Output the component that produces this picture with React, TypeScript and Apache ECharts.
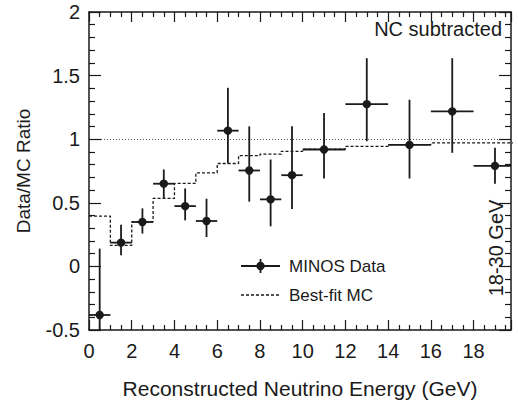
import React, { useEffect, useRef } from "react";
import * as echarts from "echarts";

// Data points (MINOS)
const energies = [0.5, 1.5, 2.5, 3.5, 4.5, 5.5, 6.5, 7.5, 8.5, 9.5, 11, 13, 15, 17, 19];
const binLow = [0, 1, 2, 3, 4, 5, 6, 7, 8, 9, 10, 12, 14, 16, 18];
const binHigh = [1, 2, 3, 4, 5, 6, 7, 8, 9, 10, 12, 14, 16, 18, 30];
const ratios = [-0.382, 0.187, 0.349, 0.65, 0.474, 0.357, 1.067, 0.754, 0.527, 0.717, 0.919, 1.276, 0.955, 1.219, 0.791];
const ratioHigh = [0.14, 0.328, 0.456, 0.762, 0.613, 0.532, 1.404, 1.101, 0.84, 1.101, 1.206, 1.637, 1.31, 1.637, 0.932];
const ratioLow = [-0.904, 0.088, 0.258, 0.535, 0.362, 0.231, 0.809, 0.509, 0.315, 0.451, 0.691, 0.984, 0.691, 0.893, 0.65];

// Best-fit MC histogram
const mcEdges = [0, 1, 2, 3, 4, 5, 6, 7, 8, 9, 10, 12, 14, 16, 18, 30];
const mcValues = [0.396, 0.165, 0.352, 0.535, 0.652, 0.736, 0.809, 0.871, 0.882, 0.905, 0.921, 0.944, 0.958, 0.971, 0.976];

const xTicks = [0, 2, 4, 6, 8, 10, 12, 14, 16, 18];
const yTicks = [-0.5, 0, 0.5, 1, 1.5, 2];

const X_MIN = 0;
const X_MAX = 19.75;
const Y_MIN = -0.5;
const Y_MAX = 2;

const INK = "#1a1a1a";
const FONT = "Liberation Sans, Arial, sans-serif";

export default function App() {
  const ref = useRef<HTMLDivElement>(null);

  useEffect(() => {
    if (!ref.current) return;
    const chart = echarts.init(ref.current, null, { renderer: "svg" });

    const errData = energies.map((e, i) => [e, ratios[i], binLow[i], binHigh[i], ratioLow[i], ratioHigh[i]]);
    const mcData: number[][] = mcValues.map((v, i) => [mcEdges[i], v]);
    mcData.push([mcEdges[mcEdges.length - 1], mcValues[mcValues.length - 1]]);

    const clampX = (v: number) => Math.min(X_MAX, Math.max(X_MIN, v));
    const clampY = (v: number) => Math.min(Y_MAX, Math.max(Y_MIN, v));

    const baseX = {
      type: "value" as const,
      min: X_MIN,
      max: X_MAX,
      interval: 2,
      splitLine: { show: false },
      axisLine: { show: true, onZero: false, lineStyle: { color: INK, width: 1.5 } },
      axisTick: { show: true, inside: true, length: 10, lineStyle: { color: INK, width: 1.2 } },
      minorTick: { show: true, splitNumber: 4, length: 5, lineStyle: { color: INK, width: 1.2 } },
    };
    const baseY = {
      type: "value" as const,
      min: Y_MIN,
      max: Y_MAX,
      interval: 0.5,
      splitLine: { show: false },
      axisLine: { show: true, onZero: false, lineStyle: { color: INK, width: 1.5 } },
      axisTick: { show: true, inside: true, length: 12, lineStyle: { color: INK, width: 1.2 } },
      minorTick: { show: true, splitNumber: 5, length: 6, lineStyle: { color: INK, width: 1.2 } },
    };

    chart.setOption({
      animation: false,
      backgroundColor: "#ffffff",
      grid: { left: 89, right: 7, top: 12, bottom: 73, containLabel: false },
      xAxis: [
        {
          ...baseX,
          position: "bottom",
          axisLabel: {
            show: true,
            fontSize: 20,
            color: INK,
            fontFamily: FONT,
            margin: 11,
            showMaxLabel: false,
            formatter: (v: number) => (xTicks.includes(v) ? String(v) : ""),
          },
          name: "Reconstructed Neutrino Energy (GeV)",
          nameLocation: "middle",
          nameGap: 48,
          nameTextStyle: { fontSize: 21, color: INK, fontFamily: FONT },
        },
        { ...baseX, position: "top", axisLabel: { show: false } },
      ],
      yAxis: [
        {
          ...baseY,
          position: "left",
          axisLabel: {
            show: true,
            fontSize: 20,
            color: INK,
            fontFamily: FONT,
            margin: 9,
            formatter: (v: number) => (yTicks.includes(v) ? String(v) : ""),
          },
          name: "Data/MC Ratio",
          nameLocation: "middle",
          nameGap: 56,
          nameRotate: 90,
          nameTextStyle: { fontSize: 19, color: INK, fontFamily: FONT },
        },
        { ...baseY, position: "right", axisLabel: { show: false } },
      ],
      series: [
        {
          name: "Best-fit MC",
          type: "line",
          xAxisIndex: 0,
          yAxisIndex: 0,
          step: "end",
          symbol: "none",
          clip: true,
          data: mcData,
          lineStyle: { color: INK, width: 1.3, type: [3, 2] },
          markLine: {
            silent: true,
            symbol: "none",
            label: { show: false },
            lineStyle: { color: INK, width: 0.8, type: [1, 2] },
            data: [{ yAxis: 1 }],
          },
        },
        {
          name: "MINOS Data",
          type: "custom",
          xAxisIndex: 0,
          yAxisIndex: 0,
          data: errData,
          renderItem: (params: any, api: any) => {
            const x = api.value(0);
            const y = api.value(1);
            const xl = clampX(api.value(2));
            const xh = clampX(api.value(3));
            const yl = clampY(api.value(4));
            const yh = clampY(api.value(5));
            const c = api.coord([x, y]);
            const pL = api.coord([xl, y]);
            const pR = api.coord([xh, y]);
            const pB = api.coord([x, yl]);
            const pT = api.coord([x, yh]);
            const style = { stroke: INK, lineWidth: 1.8 };
            return {
              type: "group",
              children: [
                { type: "line", shape: { x1: pB[0], y1: pB[1], x2: pT[0], y2: pT[1] }, style },
                { type: "line", shape: { x1: pL[0], y1: pL[1], x2: pR[0], y2: pR[1] }, style },
                { type: "circle", shape: { cx: c[0], cy: c[1], r: 4.2 }, style: { fill: INK } },
              ],
            };
          },
        },
      ],
      graphic: [
        {
          type: "text",
          right: 16,
          top: 19,
          style: { text: "NC subtracted", fontSize: 20, fill: INK, fontFamily: FONT },
        },
        {
          type: "text",
          x: 496,
          y: 248,
          rotation: Math.PI / 2,
          style: {
            text: "18-30 GeV",
            fontSize: 20,
            fill: INK,
            fontFamily: FONT,
            align: "center",
            verticalAlign: "middle",
          },
        },
        // Legend
        { type: "line", shape: { x1: 241, y1: 266, x2: 280, y2: 266 }, style: { stroke: INK, lineWidth: 1.8 } },
        { type: "line", shape: { x1: 260.5, y1: 259, x2: 260.5, y2: 273 }, style: { stroke: INK, lineWidth: 1.8 } },
        { type: "circle", shape: { cx: 260.5, cy: 266, r: 4.2 }, style: { fill: INK } },
        {
          type: "text",
          x: 289,
          y: 266,
          style: { text: "MINOS Data", fontSize: 17, fill: INK, fontFamily: FONT, verticalAlign: "middle" },
        },
        {
          type: "line",
          shape: { x1: 241, y1: 295, x2: 280, y2: 295 },
          style: { stroke: INK, lineWidth: 1.3, lineDash: [3, 2] },
        },
        {
          type: "text",
          x: 289,
          y: 295,
          style: { text: "Best-fit MC", fontSize: 17, fill: INK, fontFamily: FONT, verticalAlign: "middle" },
        },
      ],
    });

    return () => chart.dispose();
  }, []);

  return <div ref={ref} style={{ width: 518, height: 404, position: "absolute", left: 0, top: 0 }} />;
}
